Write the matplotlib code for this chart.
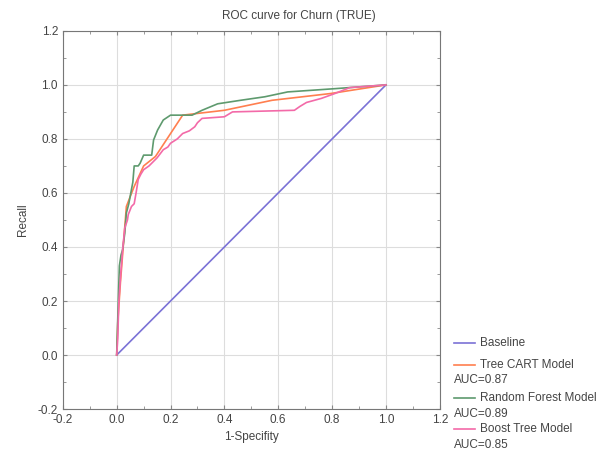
import numpy as np
import matplotlib.pyplot as plt
from matplotlib.lines import Line2D

plt.rcParams['font.family'] = ['Liberation Sans', 'DejaVu Sans']

# ROC points (1-specificity, recall)
base_x = [0.0, 1.0]
base_y = [0.0, 1.0]

cart_x = [0.0, 0.004, 0.014, 0.036, 0.065, 0.10, 0.144, 0.245, 0.40, 0.577, 0.794, 1.0]
cart_y = [0.0, 0.12, 0.27, 0.55, 0.624, 0.70, 0.735, 0.888, 0.906, 0.943, 0.968, 1.0]

rf_x = [0.0, 0.003, 0.006, 0.01, 0.016, 0.022, 0.03, 0.036, 0.045, 0.05, 0.06, 0.065,
        0.08, 0.087, 0.10, 0.13, 0.137, 0.152, 0.173, 0.20, 0.28, 0.317, 0.375,
        0.46, 0.55, 0.635, 0.81, 1.0]
rf_y = [0.0, 0.10, 0.206, 0.33, 0.37, 0.39, 0.45, 0.526, 0.56, 0.587, 0.64, 0.70,
        0.70, 0.71, 0.74, 0.74, 0.796, 0.833, 0.87, 0.888, 0.888, 0.906, 0.93,
        0.943, 0.956, 0.974, 0.986, 1.0]

bt_x = [0.0, 0.004, 0.008, 0.015, 0.022, 0.03, 0.04, 0.043, 0.055, 0.065, 0.072, 0.08,
        0.09, 0.10, 0.12, 0.13, 0.15, 0.173, 0.19, 0.20, 0.225, 0.245, 0.27, 0.29,
        0.30, 0.317, 0.40, 0.43, 0.66, 0.68, 0.705, 0.76, 0.81, 0.866, 1.0]
bt_y = [0.0, 0.06, 0.20, 0.30, 0.39, 0.47, 0.50, 0.52, 0.55, 0.56, 0.60, 0.65,
        0.67, 0.686, 0.70, 0.71, 0.73, 0.76, 0.77, 0.784, 0.80, 0.82, 0.83, 0.845,
        0.86, 0.876, 0.882, 0.90, 0.906, 0.92, 0.935, 0.95, 0.968, 0.99, 1.0]

labels = ['Baseline', 'Tree CART Model', 'Random Forest Model', 'Boost Tree Model']
aucs = [None, '0.87', '0.89', '0.85']
colors = ['#7b72d6', '#ff7f4f', '#5e9a6e', '#f36aa8']

fig = plt.figure(figsize=(6.1, 4.54), dpi=100)
ax = fig.add_axes([0.103, 0.099, 0.618, 0.833])

ax.plot(base_x, base_y, color=colors[0], lw=1.2)
ax.plot(cart_x, cart_y, color=colors[1], lw=1.2)
ax.plot(rf_x, rf_y, color=colors[2], lw=1.2)
ax.plot(bt_x, bt_y, color=colors[3], lw=1.2)

ax.set_xlim(-0.2, 1.2)
ax.set_ylim(-0.2, 1.2)
ticks = np.arange(-0.2, 1.21, 0.2)
ax.set_xticks(ticks)
ax.set_yticks(ticks)
ax.set_xticklabels(['%.1f' % t for t in ticks])
ax.set_yticklabels(['%.1f' % t for t in ticks])
ax.set_xticks(np.arange(-0.1, 1.2, 0.2), minor=True)
ax.set_yticks(np.arange(-0.1, 1.2, 0.2), minor=True)
ax.tick_params(which='both', direction='in', top=True, right=True, color='#888888',
               labelsize=8.5, labelcolor='#444444')
ax.tick_params(which='major', length=3)
ax.tick_params(which='minor', length=2)
ax.grid(True, which='major', color='#dddddd', lw=0.8)
for s in ax.spines.values():
    s.set_color('#777777')

ax.set_xlabel('1-Specifity', fontsize=8.5, color='#444444', labelpad=4)
ax.set_ylabel('Recall', fontsize=8.5, color='#444444', labelpad=6)
fig.text(0.49, 0.965, 'ROC curve for Churn (TRUE)', ha='center', va='center',
         fontsize=8.5, color='#444444')

# legend drawn by hand, below right of the plot
ys = [0.245, 0.196, 0.123, 0.054]
for lab, auc, c, y in zip(labels, aucs, colors, ys):
    fig.add_artist(Line2D([0.745, 0.778], [y, y], color=c, lw=1.2))
    fig.text(0.787, y, lab, va='center', fontsize=8.5, color='#444444')
    if auc:
        fig.text(0.745, y - 0.034, 'AUC=' + auc, va='center', fontsize=8.5, color='#444444')

plt.savefig('out.png', dpi=100)
